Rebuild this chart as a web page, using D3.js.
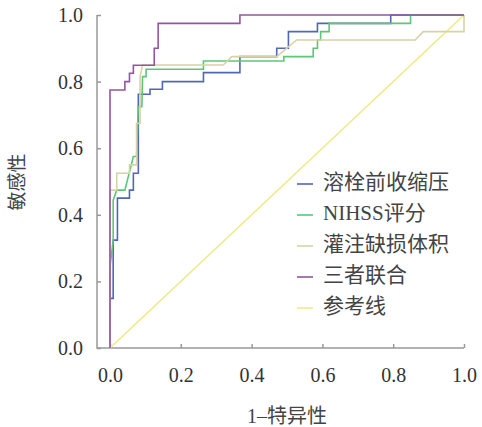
<!DOCTYPE html>
<html><head><meta charset="utf-8">
<script src="https://cdn.jsdelivr.net/npm/d3@7"></script>
<style>
body{margin:0;background:#fff;}
text{font-family:"Liberation Serif","Noto Sans CJK SC",serif;fill:#333;}
</style></head>
<body>
<svg id="c" width="482" height="427"></svg>
<script>
const xTicks = [0, 0.2, 0.4, 0.6, 0.8, 1.0];
const yTicks = [0, 0.2, 0.4, 0.6, 0.8, 1.0];
const seriesNames = ["溶栓前收缩压", "NIHSS评分", "灌注缺损体积", "三者联合", "参考线"];
const seriesColors = ["#5068b4", "#5cc777", "#d8d2a6", "#9455a0", "#eeea88"];

const bpFpr = [0,0,0.009,0.009,0.021,0.021,0.055,0.055,0.066,0.066,0.08,0.08,0.113,0.113,0.148,0.148,0.264,0.264,0.367,0.367,0.471,0.471,0.504,0.504,0.586,0.586,0.793,0.793,1];
const bpTpr = [0,0.149,0.149,0.324,0.324,0.45,0.45,0.474,0.474,0.525,0.525,0.762,0.762,0.777,0.777,0.80,0.80,0.827,0.827,0.875,0.875,0.90,0.90,0.95,0.95,0.975,0.975,1,1];

const nihssFpr = [0,0,0.009,0.009,0.019,0.042,0.066,0.075,0.08,0.09,0.092,0.102,0.102,0.264,0.264,0.491,0.491,0.574,0.574,0.586,0.586,0.595,0.595,0.619,0.619,0.849,0.849,1];
const nihssTpr = [0,0.244,0.324,0.444,0.474,0.474,0.575,0.575,0.725,0.725,0.815,0.815,0.837,0.837,0.862,0.862,0.875,0.875,0.90,0.90,0.925,0.925,0.95,0.95,0.975,0.975,1,1];

const volFpr = [0,0,0.019,0.019,0.055,0.055,0.075,0.075,0.085,0.085,0.092,0.320,0.344,0.471,0.527,0.862,0.885,1,1];
const volTpr = [0,0.474,0.474,0.525,0.525,0.55,0.55,0.675,0.675,0.815,0.85,0.85,0.875,0.875,0.925,0.925,0.95,0.95,1];

const combFpr = [0,0,0.042,0.042,0.055,0.055,0.066,0.066,0.125,0.125,0.136,0.136,0.367,0.367,1];
const combTpr = [0,0.775,0.775,0.80,0.80,0.825,0.825,0.849,0.849,0.90,0.90,0.975,0.975,1,1];

const refFpr = [0, 1];
const refTpr = [0, 1];

const svg = d3.select("#c");
const x = d3.scaleLinear().domain([0,1]).range([110,464]);
const y = d3.scaleLinear().domain([0,1]).range([348,15]);
const axisColor = "#999";

// axes
const yAxis = svg.append("g").attr("transform","translate(97,0)")
  .call(d3.axisLeft(y).tickValues(yTicks).tickFormat(d3.format(".1f")).tickSizeInner(-4).tickSizeOuter(0).tickPadding(14));
yAxis.select(".domain").remove();
yAxis.selectAll("line").attr("stroke",axisColor).attr("stroke-width",1.5);
yAxis.selectAll("text").style("font-size","20px").attr("fill","#333").style("font-family","Liberation Serif");

const xAxis = svg.append("g").attr("transform","translate(0,348)")
  .call(d3.axisBottom(x).tickValues(xTicks).tickFormat(d3.format(".1f")).tickSizeInner(-4).tickSizeOuter(0).tickPadding(20));
xAxis.select(".domain").remove();
xAxis.selectAll("line").attr("stroke",axisColor).attr("stroke-width",1.5);
xAxis.selectAll("text").style("font-size","20px").attr("fill","#333").style("font-family","Liberation Serif");

svg.append("path").attr("d",`M97,${y(1)}V348H${x(1)}`).attr("fill","none").attr("stroke",axisColor).attr("stroke-width",1.5);

// axis titles
svg.append("text").attr("transform","translate(20,182) rotate(-90)").attr("text-anchor","middle")
  .attr("dominant-baseline","middle").style("font-size","19px").style("fill","#444").text("敏感性");
svg.append("text").attr("x",287).attr("y",418).attr("text-anchor","middle")
  .attr("dominant-baseline","middle").style("font-size","20px").style("fill","#444").text("1–特异性");

// lines
const line = d3.line().x(d=>x(d[0])).y(d=>y(d[1]));
const seriesData = [
  [bpFpr,bpTpr],[nihssFpr,nihssTpr],[volFpr,volTpr],[combFpr,combTpr],[refFpr,refTpr]
];
const order = [4,0,1,2,3];
order.forEach(i=>{
  const pts = seriesData[i][0].map((v,k)=>[v,seriesData[i][1][k]]);
  svg.append("path").datum(pts).attr("d",line).attr("fill","none")
    .attr("stroke",seriesColors[i]).attr("stroke-width",1.6);
});

// legend
const lg = svg.append("g");
seriesNames.forEach((n,i)=>{
  const yy = 184 + i*31;
  lg.append("line").attr("x1",297).attr("x2",313).attr("y1",yy).attr("y2",yy)
    .attr("stroke",seriesColors[i]).attr("stroke-width",1.6);
  lg.append("text").attr("x",323).attr("y",yy).attr("dominant-baseline","middle")
    .style("font-size","21px").style("fill","#444").text(n);
});
</script>
</body></html>
